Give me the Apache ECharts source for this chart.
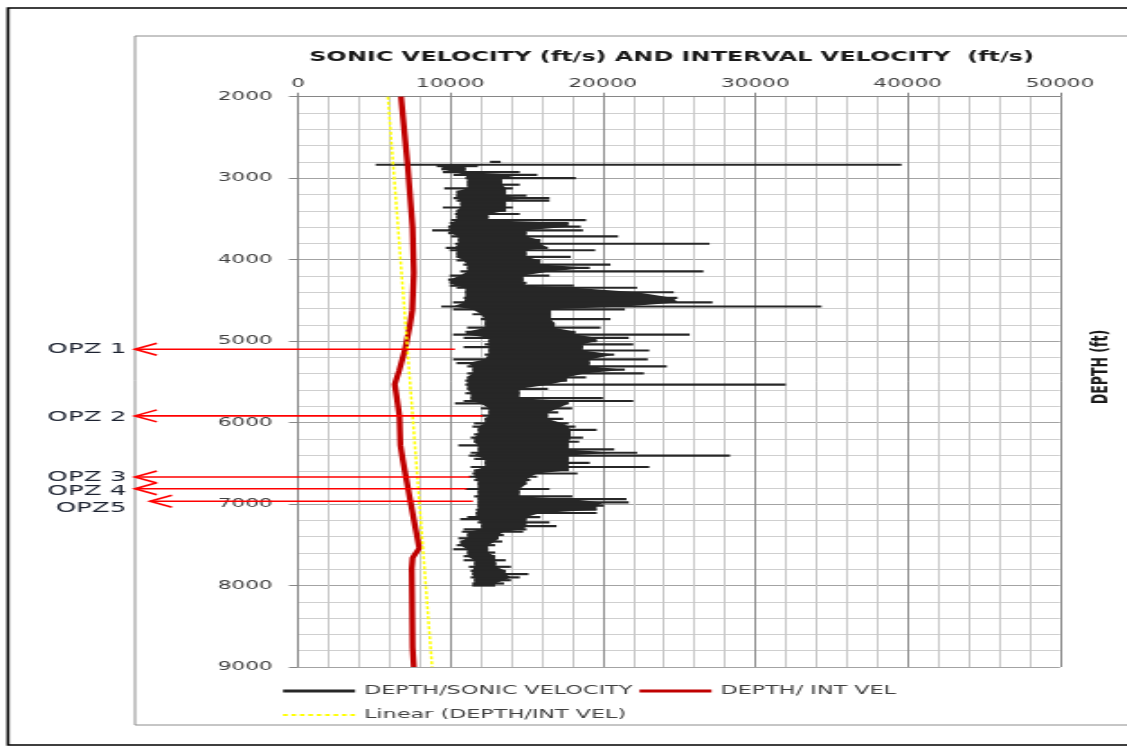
<!DOCTYPE html>
<html>
<head>
<meta charset="utf-8">
<title>Sonic velocity and interval velocity vs depth</title>
<script src="https://cdn.jsdelivr.net/npm/echarts/dist/echarts.min.js"></script>
<style>
  html, body { margin: 0; padding: 0; background: #ffffff; overflow: hidden; }
  /* the chart is laid out narrow and stretched horizontally to the page width */
  #chart { width: 626px; height: 749px; transform-origin: 0 0; transform: scaleX(1.8003); }
</style>
</head>
<body>
<div id="chart"></div>
<script>
// ---- axes ----
const velTicks = [0, 10000, 20000, 30000, 40000, 50000];
const depthTicks = [2000, 3000, 4000, 5000, 6000, 7000, 8000, 9000];

// ---- sonic log: at each depth, the left and right extent of the trace (ft/s) ----
const sonicDepth = [
  2800, 2835, 2852, 2890, 2925, 2960, 3000, 3050, 3080, 3125, 3165, 3215, 3245, 3275, 3315, 3360,
  3400, 3440, 3475, 3515, 3550, 3595, 3640, 3675, 3715, 3760, 3805, 3855, 3885, 3925, 3965, 4010,
  4060, 4100, 4145, 4195, 4245, 4285, 4320, 4345, 4400, 4470, 4525, 4575, 4610, 4670, 4730, 4785,
  4835, 4885, 4920, 4960, 5000, 5040, 5075, 5115, 5165, 5225, 5270, 5310, 5350, 5395, 5445, 5485,
  5535, 5585, 5640, 5700, 5735, 5765, 5825, 5875, 5915, 5955, 6010, 6050, 6090, 6145, 6185, 6235,
  6280, 6330, 6370, 6405, 6445, 6495, 6545, 6585, 6625, 6665, 6705, 6750, 6815, 6855, 6905, 6940,
  6980, 7020, 7070, 7110, 7160, 7185, 7225, 7270, 7310, 7340, 7380, 7420, 7460, 7505, 7555, 7595,
  7640, 7690, 7730, 7770, 7820, 7860, 7900, 7935, 7975, 8000
];
const sonicLow = [
  12600, 5100, 9100, 9400, 9500, 10200, 10980, 11100, 11100, 9600, 10400, 10400, 10200, 10400, 10650, 9500,
  10400, 10300, 10400, 10050, 9950, 9850, 8800, 9850, 10050, 10500, 10300, 9700, 9950, 10400, 10400, 10400,
  10850, 11100, 10650, 9950, 9850, 9950, 9950, 10400, 10980, 10870, 10180, 9400, 10180, 11450, 12000, 12250,
  11100, 10980, 10180, 10870, 12500, 12250, 10870, 12500, 12250, 10180, 10400, 11100, 11450, 11100, 11100, 10980,
  10980, 11100, 10980, 11330, 10870, 10300, 12000, 12500, 12000, 12250, 11550, 11450, 11800, 11550, 11330, 11550,
  10520, 11800, 11330, 11210, 11560, 12250, 11330, 11560, 11440, 11210, 11560, 11790, 10980, 11790, 11560, 11790,
  11790, 11790, 11670, 11670, 11100, 10640, 11790, 12020, 10870, 10750, 11100, 10520, 10640, 10410, 10180, 11100,
  10870, 10870, 11560, 11210, 11330, 11440, 11330, 11560, 11440, 11440
];
const sonicHigh = [
  13300, 39600, 11800, 11000, 14550, 15700, 18230, 13400, 14550, 14100, 13650, 15000, 16500, 16500, 13650, 14100,
  13650, 14550, 12500, 18900, 17750, 18550, 18700, 15000, 21000, 15900, 27000, 16400, 19500, 15000, 17900, 15900,
  20500, 19150, 26600, 16500, 14800, 15000, 18100, 22250, 24650, 24900, 27200, 34350, 21450, 16600, 20500, 16850,
  19850, 18200, 25700, 21700, 19600, 22000, 18700, 23050, 20750, 22950, 19150, 24200, 21450, 22700, 18900, 17650,
  32000, 16400, 14550, 20000, 22000, 17750, 17990, 17080, 16400, 17400, 17750, 18200, 19600, 17900, 18700, 18450,
  17770, 20750, 22250, 28350, 17770, 19150, 23050, 17770, 18340, 15700, 15240, 15000, 16500, 14550, 18000, 21550,
  21700, 20070, 19600, 19610, 15900, 15000, 16500, 16960, 15000, 14780, 13500, 13170, 13400, 12940, 12480, 12940,
  12940, 13630, 13000, 13970, 13630, 15120, 14550, 13970, 13520, 12940
];

// ---- interval velocity (ft/s) ----
const intVelDepth = [2000, 2850, 3610, 4160, 4620, 4800, 5100, 5360, 5530, 5650, 5925, 6280, 6460, 6920, 7290, 7540, 7660, 7790, 8760, 9000];
const intVel      = [6760, 7200, 7520, 7600, 7500, 7350, 7030, 6640, 6350, 6450, 6660, 6720, 6880, 7330, 7700, 7960, 7520, 7460, 7520, 7600];

// ---- linear trend of the interval velocity ----
const trendDepth = [2000, 9000];
const trendVel   = [5900, 8800];

// ---- over-pressure zone markers ----
const opzNames      = ['OPZ 1', 'OPZ 2', 'OPZ 3', 'OPZ 4', 'OPZ5'];
const opzDepth      = [5100, 5918, 6668, 6812, 6965];
const opzTipVel     = [-10700, -10700, -10700, -10700, -9710];
const opzEndVel     = [10300, 12140, 11290, 11090, 11480];
const opzLabelDepth = [5098, 5934, 6670, 6845, 7050];
const opzLabelVel   = -11250;

const SONIC_COLOR = '#272727';
const INT_COLOR = '#c00000';
const TREND_COLOR = '#ffff00';
const LABEL_FONT = '"DejaVu Sans", Verdana, sans-serif';

// legend icons
const solidIcon = 'path://M0 0H40V3H0Z';
let dotted = '';
for (let x = 0; x < 40; x += 4.5) dotted += 'M' + x + ' 0H' + (x + 2.5) + 'V2H' + x + 'Z';
const dottedIcon = 'path://' + dotted;

// Range shared by a sample and its two neighbours: the dense core of the trace.
function coreAt(k) {
  const n = sonicDepth.length;
  let L = -Infinity, H = Infinity;
  for (let j = Math.max(0, k - 1); j <= Math.min(n - 1, k + 1); j++) {
    L = Math.max(L, sonicLow[j]);
    H = Math.min(H, sonicHigh[j]);
  }
  return [L, H];
}

// Each sample is drawn as a thin horizontal stroke of the trace; the core
// between neighbouring samples is filled, so isolated excursions stay spikes.
function renderSonic(params, api) {
  const i = params.dataIndex;
  const n = sonicDepth.length;
  const d = sonicDepth[i], lo = sonicLow[i], hi = sonicHigh[i];
  const a = api.coord([lo, d]);
  const b = api.coord([hi, d]);
  const children = [{
    type: 'rect',
    shape: { x: a[0], y: a[1] - 1.1, width: b[0] - a[0], height: 2.2 },
    style: { fill: SONIC_COLOR }
  }];
  if (i + 1 < n) {
    const d2 = sonicDepth[i + 1];
    const c1 = coreAt(i), c2 = coreAt(i + 1);
    if (c1[1] > c1[0] && c2[1] > c2[0]) {
      children.push({
        type: 'polygon',
        shape: { points: [api.coord([c1[0], d]), api.coord([c1[1], d]), api.coord([c2[1], d2]), api.coord([c2[0], d2])] },
        style: { fill: SONIC_COLOR }
      });
    }
  }
  return { type: 'group', children: children };
}

function renderOpz(params, api) {
  const i = params.dataIndex;
  const tip = api.coord([opzTipVel[i], opzDepth[i]]);
  const end = api.coord([opzEndVel[i], opzDepth[i]]);
  const lab = api.coord([opzLabelVel, opzLabelDepth[i]]);
  return {
    type: 'group',
    children: [
      { type: 'line', shape: { x1: tip[0], y1: tip[1], x2: end[0], y2: end[1] },
        style: { stroke: '#ff0000', lineWidth: 1.6 } },
      { type: 'polyline', shape: { points: [[tip[0] + 12.2, tip[1] - 6], [tip[0], tip[1]], [tip[0] + 12.2, tip[1] + 6]] },
        style: { stroke: '#ff0000', lineWidth: 1.6, fill: 'none' } },
      { type: 'text', x: lab[0], y: lab[1],
        style: { text: opzNames[i], align: 'right', verticalAlign: 'middle', textAlign: 'right', textVerticalAlign: 'middle',
                 fontSize: 14.5, fontFamily: LABEL_FONT, fill: '#1c2230' } }
    ]
  };
}

const chart = echarts.init(document.getElementById('chart'), null, { renderer: 'canvas' });

const option = {
  animation: false,
  backgroundColor: '#ffffff',
  title: {
    text: 'SONIC VELOCITY (ft/s) AND INTERVAL VELOCITY  (ft/s)',
    left: 373, top: 51, textAlign: 'center', padding: 0,
    textStyle: { fontFamily: LABEL_FONT, fontWeight: 'bold', fontSize: 13.3, color: '#1a1a1a' }
  },
  grid: { left: 165.5, right: 37.2, top: 96.7, bottom: 82, containLabel: false },
  xAxis: {
    type: 'value', position: 'top',
    min: velTicks[0], max: velTicks[velTicks.length - 1], interval: velTicks[1] - velTicks[0],
    axisLine: { show: true, lineStyle: { color: '#868686', width: 1 } },
    axisTick: { show: true, length: 4, lineStyle: { color: '#868686' } },
    axisLabel: { margin: 7, color: '#404040', fontFamily: LABEL_FONT, fontSize: 12, formatter: v => String(v) },
    splitLine: { show: true, lineStyle: { color: '#8c8c8c', width: 1 } },
    minorTick: { show: false, splitNumber: 5 },
    minorSplitLine: { show: true, lineStyle: { color: '#c8c8c8', width: 1 } }
  },
  yAxis: {
    type: 'value', inverse: true,
    min: depthTicks[0], max: depthTicks[depthTicks.length - 1], interval: depthTicks[1] - depthTicks[0],
    axisLine: { show: true, lineStyle: { color: '#868686', width: 1 } },
    axisTick: { show: true, length: 5, lineStyle: { color: '#868686' } },
    axisLabel: { margin: 14, color: '#404040', fontFamily: LABEL_FONT, fontSize: 12, formatter: v => String(v) },
    splitLine: { show: true, lineStyle: { color: '#a3a3a3', width: 1 } },
    minorTick: { show: false, splitNumber: 5 },
    minorSplitLine: { show: true, lineStyle: { color: '#cfcfcf', width: 1 } }
  },
  legend: [
    {
      data: [{ name: 'DEPTH/SONIC VELOCITY', icon: solidIcon }, { name: 'DEPTH/ INT VEL', icon: solidIcon }],
      left: 157.2, top: 685, padding: 0, itemWidth: 40, itemHeight: 12, itemGap: 4, selectedMode: false,
      textStyle: { color: '#404040', fontFamily: LABEL_FONT, fontSize: 12.4 }
    },
    {
      data: [{ name: 'Linear (DEPTH/INT VEL)', icon: dottedIcon }],
      left: 157.2, top: 709, padding: 0, itemWidth: 40, itemHeight: 12, selectedMode: false,
      textStyle: { color: '#404040', fontFamily: LABEL_FONT, fontSize: 12.4 }
    }
  ],
  series: [
    {
      name: 'DEPTH/SONIC VELOCITY', type: 'custom', renderItem: renderSonic,
      itemStyle: { color: SONIC_COLOR },
      encode: { x: [0, 2], y: 1 },
      data: sonicDepth.map((d, i) => [sonicLow[i], d, sonicHigh[i]]),
      z: 2
    },
    {
      name: 'DEPTH/ INT VEL', type: 'line', symbol: 'none', showSymbol: false,
      itemStyle: { color: INT_COLOR },
      lineStyle: { color: INT_COLOR, width: 3.3 },
      data: intVelDepth.map((d, i) => [intVel[i], d]),
      z: 3
    },
    {
      name: 'Linear (DEPTH/INT VEL)', type: 'line', symbol: 'none', showSymbol: false,
      itemStyle: { color: TREND_COLOR },
      lineStyle: { color: TREND_COLOR, width: 1.5, type: [3, 2] },
      data: trendDepth.map((d, i) => [trendVel[i], d]),
      z: 4
    },
    {
      name: 'OPZ', type: 'custom', renderItem: renderOpz, clip: false,
      encode: { x: 0, y: 1 },
      data: opzDepth.map((d, i) => [opzEndVel[i], d]),
      z: 5
    }
  ],
  graphic: [
    { type: 'rect', silent: true, z: 0,
      shape: { x: 4.4, y: 8, width: 700, height: 737 },
      style: { fill: 'none', stroke: '#000000', lineWidth: 1.6 } },
    { type: 'rect', silent: true, z: 0,
      shape: { x: 75, y: 36, width: 700, height: 689 },
      style: { fill: 'none', stroke: '#8c8c8c', lineWidth: 1 } },
    { type: 'text', silent: true, x: 612, y: 367, rotation: Math.PI / 2,
      style: { text: 'DEPTH (ft)', align: 'center', verticalAlign: 'middle', textAlign: 'center', textVerticalAlign: 'middle',
               fontFamily: LABEL_FONT, fontWeight: 'bold', fontSize: 12.5, fill: '#1a1a1a' } }
  ]
};

chart.setOption(option);
</script>
</body>
</html>
